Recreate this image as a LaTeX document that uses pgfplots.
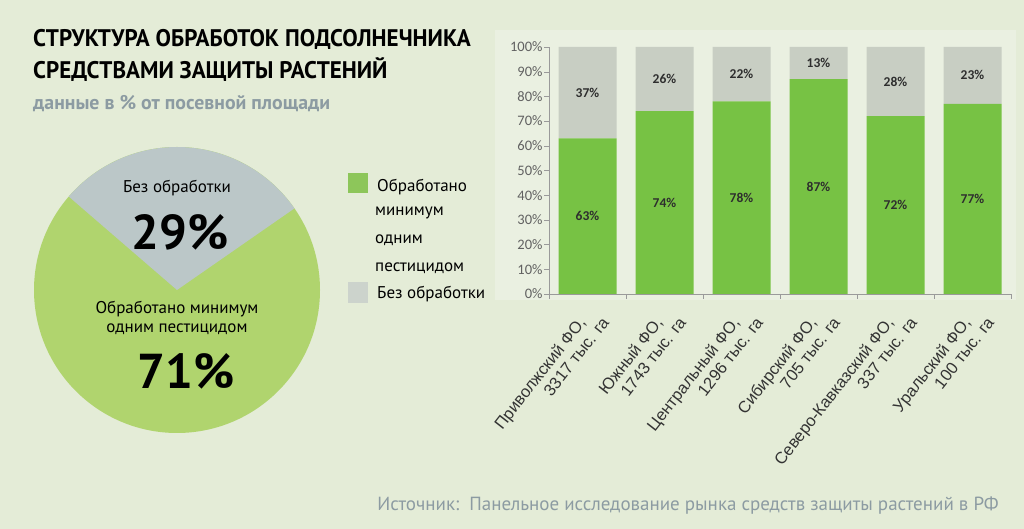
\documentclass[border=0pt]{standalone}
\usepackage{fontspec}
\usepackage{pgfplots}
\usepackage{pgfplotstable}
\pgfplotsset{compat=1.18}
\setmainfont{PT Sans}
\newfontfamily\carlito{Carlito}
\newfontfamily\arialfont{Liberation Sans}
\newfontfamily\condfont[FakeStretch=0.96]{PT Sans}

\definecolor{bg}{HTML}{E4ECD7}
\definecolor{panel}{HTML}{EAF0E1}
\definecolor{bargreen}{HTML}{77C244}
\definecolor{bargrey}{HTML}{C8CEC3}
\definecolor{piegreen}{HTML}{B0D46E}
\definecolor{piegrey}{HTML}{BBC7C8}
\definecolor{leggreen}{HTML}{8DC65A}
\definecolor{leggrey}{HTML}{CCD3CC}
\definecolor{subgrey}{HTML}{8C9BA2}
\definecolor{axisgrey}{HTML}{9A9A9A}

% share of sown area, %
\pgfplotstableread{
x g n
0 63 37
1 74 26
2 78 22
3 87 13
4 72 28
5 77 23
}\bardata
\def\pieTreated{71}
\def\pieNone{29}

\begin{document}
\begin{tikzpicture}
\useasboundingbox (0,0) rectangle (1024pt,529pt);
\fill[bg] (0,0) rectangle (1024pt,529pt);
\fill[panel] (495pt,229pt) rectangle (1016pt,499pt);

% titles
\node[anchor=base west, inner sep=0pt, font=\condfont\bfseries\fontsize{24}{24}\selectfont] at (33pt,482pt) {СТРУКТУРА ОБРАБОТОК ПОДСОЛНЕЧНИКА};
\node[anchor=base west, inner sep=0pt, font=\condfont\bfseries\fontsize{24}{24}\selectfont] at (33pt,450pt) {СРЕДСТВАМИ ЗАЩИТЫ РАСТЕНИЙ};
\node[anchor=base west, inner sep=0pt, text=subgrey, font=\bfseries\fontsize{19.8}{19.8}\selectfont] at (33pt,419pt) {данные в \% от посевной площади};

% pie
\pgfmathsetmacro\grspan{3.6*\pieNone}
\pgfmathsetmacro\grstart{87-\grspan/2}
\pgfmathsetmacro\grend{87+\grspan/2}
\fill[piegreen] (177pt,239pt) circle[radius=143pt];
\fill[piegrey] (177pt,239pt) -- ++(\grstart:143pt) arc[start angle=\grstart, end angle=\grend, radius=143pt] -- cycle;
\node[font=\fontsize{17}{17}\selectfont] at (177pt,341pt) {Без обработки};
\node[font=\bfseries\fontsize{49}{49}\selectfont] at (180pt,297pt) {\pieNone\%};
\node[align=center, font=\fontsize{17}{19}\selectfont] at (177pt,211pt) {Обработано минимум\\одним пестицидом};
\node[font=\bfseries\fontsize{49}{49}\selectfont] at (186pt,158pt) {\pieTreated\%};

% legend
\fill[leggreen] (348pt,336pt) rectangle (368pt,356pt);
\fill[leggrey] (348pt,226pt) rectangle (368pt,247pt);
\begin{scope}[every node/.style={anchor=west, inner sep=0pt, font=\fontsize{17}{17}\selectfont}]
\node at (377pt,342pt) {Обработано};
\node at (375pt,316pt) {минимум};
\node at (375pt,289pt) {одним};
\node at (375pt,261pt) {пестицидом};
\node at (377pt,235pt) {Без обработки};
\end{scope}

% source
\node[text=subgrey, font=\fontsize{19}{19}\selectfont] at (688pt,23pt) {Источник:\ \ Панельное исследование рынка средств защиты растений в РФ};

% stacked bars
\begin{axis}[
    at={(549pt,235pt)}, anchor=south west,
    scale only axis, width=462pt, height=247pt,
    ybar stacked, bar width=58pt,
    xmin=-0.5, xmax=5.5, ymin=0, ymax=100,
    enlargelimits=false,
    axis lines*=left,
    axis line style={draw=axisgrey},
    tick align=outside,
    ytick={0,10,...,100},
    yticklabel={\pgfmathprintnumber[assume math mode=true]{\tick}\%},
    yticklabel style={font=\carlito\fontsize{14.5}{14.5}\selectfont, text=black!62, xshift=2pt},
    ytick style={draw=axisgrey},
    major tick length=5pt,
    xtick={0,...,5},
    minor xtick={-0.5,0.5,...,5.5},
    major x tick style={draw=none},
    minor x tick style={draw=axisgrey},
    minor tick length=5pt,
    xticklabels={{Приволжский ФО,\hspace*{14pt}\\3317 тыс. га},{Южный ФО,\hspace*{14pt}\\1743 тыс. га},{Центральный ФО,\hspace*{14pt}\\1296 тыс. га},{Сибирский ФО,\hspace*{14pt}\\705 тыс. га},{Северо-Кавказский ФО,\hspace*{14pt}\\337 тыс. га},{Уральский ФО,\hspace*{14pt}\\100 тыс. га}},
    xticklabel style={rotate=52, anchor=east, align=right, font=\arialfont\fontsize{16.5}{18.5}\selectfont, text=black!80, inner sep=0pt, xshift=-5pt, yshift=-17pt},
]
\addplot[fill=bargreen, draw=none] table[x=x, y=g] {\bardata};
\addplot[fill=bargrey, draw=none] table[x=x, y=n] {\bardata};
\end{axis}

% value labels centred in each segment
\begin{axis}[
    at={(549pt,235pt)}, anchor=south west,
    scale only axis, width=462pt, height=247pt,
    xmin=-0.5, xmax=5.5, ymin=0, ymax=100,
    hide axis,
    nodes near coords={\pgfmathprintnumber[assume math mode=true]{\pgfplotspointmeta}\%},
    every node near coord/.append style={anchor=center, font=\carlito\bfseries\fontsize{13.5}{13.5}\selectfont, text=black!82},
]
\addplot[draw=none, mark=none, point meta=explicit] table[x=x, y expr=\thisrow{g}/2, meta=g] {\bardata};
\addplot[draw=none, mark=none, point meta=explicit] table[x=x, y expr=\thisrow{g}+\thisrow{n}/2, meta=n] {\bardata};
\end{axis}
\end{tikzpicture}
\end{document}
